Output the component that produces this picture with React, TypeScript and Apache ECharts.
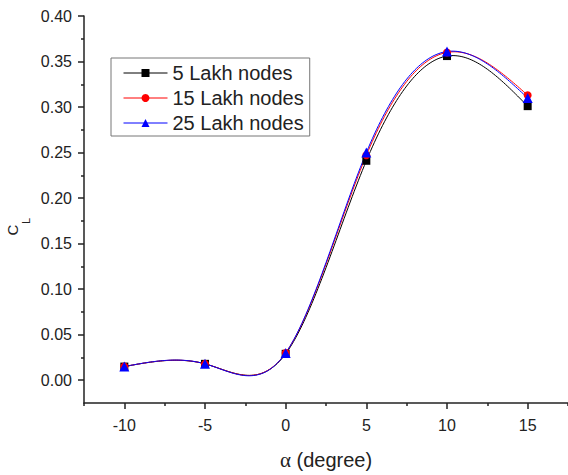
import React, { useEffect, useRef } from "react";
import * as echarts from "echarts";

const alphaDeg = [-10, -5, 0, 5, 10, 15];
const cl5 = [0.015, 0.018, 0.029, 0.241, 0.356, 0.301];
const cl15 = [0.015, 0.018, 0.030, 0.247, 0.360, 0.313];
const cl25 = [0.015, 0.018, 0.030, 0.250, 0.361, 0.310];
const seriesNames = ["5 Lakh nodes", "15 Lakh nodes", "25 Lakh nodes"];
const seriesColors = ["#000000", "#ff0000", "#0000ff"];
const seriesSymbols = ["rect", "circle", "triangle"];
const xMajorTicks = [-10, -5, 0, 5, 10, 15];
const xMinorTicks = [-12.5, -7.5, -2.5, 2.5, 7.5, 12.5, 17.5];
const yMajorTicks = [0, 0.05, 0.1, 0.15, 0.2, 0.25, 0.3, 0.35, 0.4];
const yMinorTicks = [0.025, 0.075, 0.125, 0.175, 0.225, 0.275, 0.325, 0.375];

const FONT = "'Liberation Sans', Arial, sans-serif";
const TXT = "#222222";

function naturalSpline(xs: number[], ys: number[]) {
  const n = xs.length;
  const h: number[] = [];
  for (let i = 0; i < n - 1; i++) h.push(xs[i + 1] - xs[i]);
  const M = new Array(n).fill(0);
  const m = n - 2;
  if (m > 0) {
    const a: number[] = [], b: number[] = [], c: number[] = [], d: number[] = [];
    for (let i = 1; i <= m; i++) {
      a.push(h[i - 1]);
      b.push(2 * (h[i - 1] + h[i]));
      c.push(h[i]);
      d.push(6 * ((ys[i + 1] - ys[i]) / h[i] - (ys[i] - ys[i - 1]) / h[i - 1]));
    }
    for (let i = 1; i < m; i++) {
      const w = a[i] / b[i - 1];
      b[i] -= w * c[i - 1];
      d[i] -= w * d[i - 1];
    }
    const sol = new Array(m).fill(0);
    sol[m - 1] = d[m - 1] / b[m - 1];
    for (let i = m - 2; i >= 0; i--) sol[i] = (d[i] - c[i] * sol[i + 1]) / b[i];
    for (let i = 0; i < m; i++) M[i + 1] = sol[i];
  }
  return (x: number, i: number) => {
    const hi = h[i];
    const x0 = xs[i], x1 = xs[i + 1];
    return (
      (M[i] * Math.pow(x1 - x, 3)) / (6 * hi) +
      (M[i + 1] * Math.pow(x - x0, 3)) / (6 * hi) +
      (ys[i] / hi - (M[i] * hi) / 6) * (x1 - x) +
      (ys[i + 1] / hi - (M[i + 1] * hi) / 6) * (x - x0)
    );
  };
}

export default function App() {
  const ref = useRef<HTMLDivElement>(null);
  useEffect(() => {
    if (!ref.current) return;
    const chart = echarts.init(ref.current, null, { renderer: "svg" });
    const allY = [cl5, cl15, cl25];

    const curveSeries = allY.map((ys, si) => {
      const f = naturalSpline(alphaDeg, ys);
      return {
        type: "custom",
        name: seriesNames[si] + " curve",
        data: alphaDeg.map((x, i) => [x, ys[i]]),
        encode: { x: 0, y: 1 },
        silent: true,
        z: 2 + si,
        renderItem: (params: any, api: any) => {
          const i = params.dataIndex;
          if (i >= alphaDeg.length - 1) return null;
          const pts: number[][] = [];
          const steps = 40;
          for (let k = 0; k <= steps; k++) {
            const x = alphaDeg[i] + ((alphaDeg[i + 1] - alphaDeg[i]) * k) / steps;
            pts.push(api.coord([x, f(x, i)]));
          }
          return {
            type: "polyline",
            shape: { points: pts },
            style: { stroke: seriesColors[si], lineWidth: 1, fill: null },
          };
        },
      };
    });

    const markerSeries = allY.map((ys, si) => ({
      type: "line",
      name: seriesNames[si],
      data: alphaDeg.map((x, i) => [x, ys[i]]),
      symbol: seriesSymbols[si],
      symbolSize: si === 2 ? 10 : 8,
      showSymbol: true,
      z: 10 + si,
      itemStyle: { color: seriesColors[si] },
      lineStyle: { color: seriesColors[si], width: 1, opacity: 0 },
    }));

    chart.setOption({
      animation: false,
      grid: { left: 84, right: 0, top: 16, bottom: 69 },
      legend: {
        data: seriesNames,
        orient: "vertical",
        left: 111,
        top: 58,
        padding: [5, 6, 3, 12],
        itemWidth: 44,
        itemHeight: 10,
        itemGap: 5,
        borderColor: "#777777",
        borderWidth: 1,
        lineStyle: { opacity: 1, width: 1 },
        textStyle: { fontFamily: FONT, fontSize: 20, color: TXT, lineHeight: 20, padding: [0, 0, 0, 0] },
        selectedMode: false,
      },
      xAxis: [
        {
          type: "value",
          min: -12.5,
          max: 17.5,
          position: "bottom",
          splitLine: { show: false },
          axisLine: { onZero: false, lineStyle: { color: TXT, width: 1.5 } },
          axisTick: { customValues: xMajorTicks, length: 6, lineStyle: { color: TXT, width: 1.5 } },
          axisLabel: {
            customValues: xMajorTicks,
            fontFamily: FONT,
            fontSize: 16,
            color: TXT,
            margin: 14,
          },
          name: "{g|α} (degree)",
          nameLocation: "middle",
          nameGap: 46,
          nameTextStyle: {
            fontFamily: FONT,
            fontSize: 20,
            color: TXT,
            rich: { g: { fontFamily: "'Liberation Serif', 'DejaVu Serif', serif", fontSize: 21, color: TXT } },
          },
        },
        {
          type: "value",
          min: -12.5,
          max: 17.5,
          position: "bottom",
          splitLine: { show: false },
          axisLine: { show: false, onZero: false },
          axisTick: { customValues: xMinorTicks, length: 3, lineStyle: { color: TXT, width: 1.5 } },
          axisLabel: { show: false },
        },
      ],
      yAxis: [
        {
          type: "value",
          min: -0.025,
          max: 0.4,
          position: "left",
          splitLine: { show: false },
          axisLine: { show: true, onZero: false, lineStyle: { color: TXT, width: 1.5 } },
          axisTick: { show: true, customValues: yMajorTicks, length: 6, lineStyle: { color: TXT, width: 1.5 } },
          axisLabel: {
            customValues: yMajorTicks,
            formatter: (v: number) => v.toFixed(2),
            fontFamily: FONT,
            fontSize: 16,
            color: TXT,
            margin: 12,
          },
        },
        {
          type: "value",
          min: -0.025,
          max: 0.4,
          position: "left",
          offset: 0,
          splitLine: { show: false },
          axisLine: { show: false, onZero: false },
          axisTick: { show: true, customValues: yMinorTicks, length: 3, lineStyle: { color: TXT, width: 1.5 } },
          axisLabel: { show: false },
        },
      ],
      graphic: [
        {
          type: "group",
          x: 12.5,
          y: 230,
          rotation: Math.PI / 2,
          children: [
            {
              type: "text",
              x: 0,
              y: 0,
              style: {
                text: "C",
                font: "15px " + FONT,
                fill: TXT,
                textAlign: "center",
                textVerticalAlign: "middle",
              },
            },
            {
              type: "text",
              x: 9,
              y: 13,
              style: {
                text: "L",
                font: "11px " + FONT,
                fill: TXT,
                textAlign: "center",
                textVerticalAlign: "middle",
              },
            },
          ],
        },
      ],
      series: [...curveSeries, ...markerSeries],
    });
    return () => chart.dispose();
  }, []);
  return <div ref={ref} style={{ width: 568, height: 475, position: "absolute", left: 0, top: 0 }} />;
}
